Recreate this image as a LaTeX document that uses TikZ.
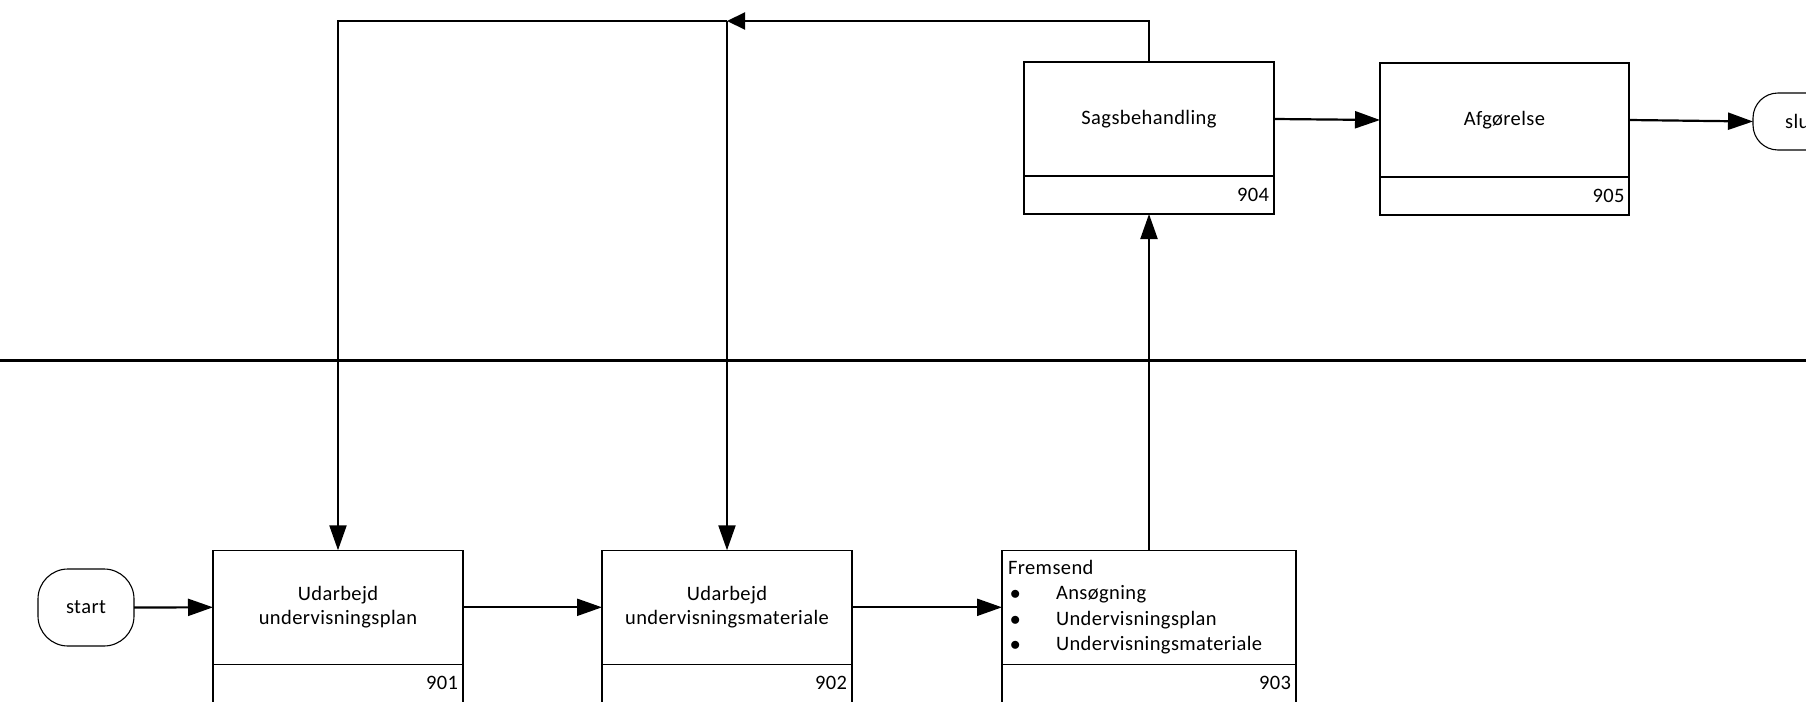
\documentclass[tikz,border=0pt]{standalone}
\usepackage{fontspec}
\setmainfont{Carlito}[LetterSpace=2]
\usetikzlibrary{arrows.meta}
\begin{document}
\begin{tikzpicture}[x=1pt,y=-1pt,
 box/.style={draw=black,line width=1.1pt,inner sep=0pt,outer sep=0pt,minimum height=114pt,align=center,font=\fontsize{20.5}{24}\selectfont},
 numbox/.style={draw=black,line width=1.1pt,inner sep=0pt,outer sep=0pt,minimum height=38pt,minimum width=250pt,text width=240pt,align=right,anchor=north,font=\fontsize{20.5}{24}\selectfont},
 term/.style={draw=black,line width=1.1pt,rounded corners=30pt,inner sep=0pt,outer sep=0pt,minimum width=96pt,font=\fontsize{20.5}{24}\selectfont},
 conn/.style={line width=2.2pt,-{Triangle[length=25pt,width=17pt]}},
 lane/.style={line width=2.6pt}
]
\useasboundingbox (0,0) rectangle (1806,701);
\clip (0,0) rectangle (1806,701);

% lane separator
\coordinate (laneL) at (0,360.5);
\coordinate (laneR) at (1806,360.5);
\draw[lane] (laneL) -- (laneR);

% terminals
\node[term,minimum height=77pt] (start) at (86,607.5) {start};
\node[term,minimum height=57pt,rounded corners=25pt] (slut) at (1801,121.5) {slut};

% bottom row
\node[box,minimum width=250pt] (u901) at (338,607.3) {Udarbejd\\undervisningsplan};
\node[numbox] (n901) at (u901.south) {901};
\node[box,minimum width=250pt] (u902) at (727,607.3) {Udarbejd\\undervisningsmateriale};
\node[numbox] (n902) at (u902.south) {902};
\node[box,minimum width=294pt,text width=282pt,align=left,font=\fontsize{20.5}{25.5}\selectfont] (u903) at (1149,607.3)
 {Fremsend\\
  \makebox[48pt][l]{\hspace{2pt}$\bullet$}Ansøgning\\
  \makebox[48pt][l]{\hspace{2pt}$\bullet$}Undervisningsplan\\
  \makebox[48pt][l]{\hspace{2pt}$\bullet$}Undervisningsmateriale};
\node[numbox,minimum width=294pt,text width=284pt] (n903) at (u903.south) {903};

% top row
\node[box,minimum width=250pt] (u904) at (1149,119) {Sagsbehandling};
\node[numbox] (n904) at (u904.south) {904};
\node[box,minimum width=249pt] (u905) at (1504.5,120) {Afgørelse};
\node[numbox,minimum width=249pt] (n905) at (u905.south) {905};

% connectors
\coordinate (j) at (727,21);
\draw[conn] (start.east) -- (u901.west);
\draw[conn] (u901.east) -- (u902.west);
\draw[conn] (u902.east) -- (u903.west);
\draw[conn] (u903.north) -- (n904.south);
\draw[conn] (u904.east) -- (u905.west);
\draw[conn] (u905.east) -- (slut.west);
\draw[line width=2.2pt,-{Triangle[length=18pt,width=17pt]}] (u904.north) |- (j);
\draw[conn] (j) -| (u901.north);
\draw[conn] (j) -- (u902.north);
\end{tikzpicture}
\end{document}
